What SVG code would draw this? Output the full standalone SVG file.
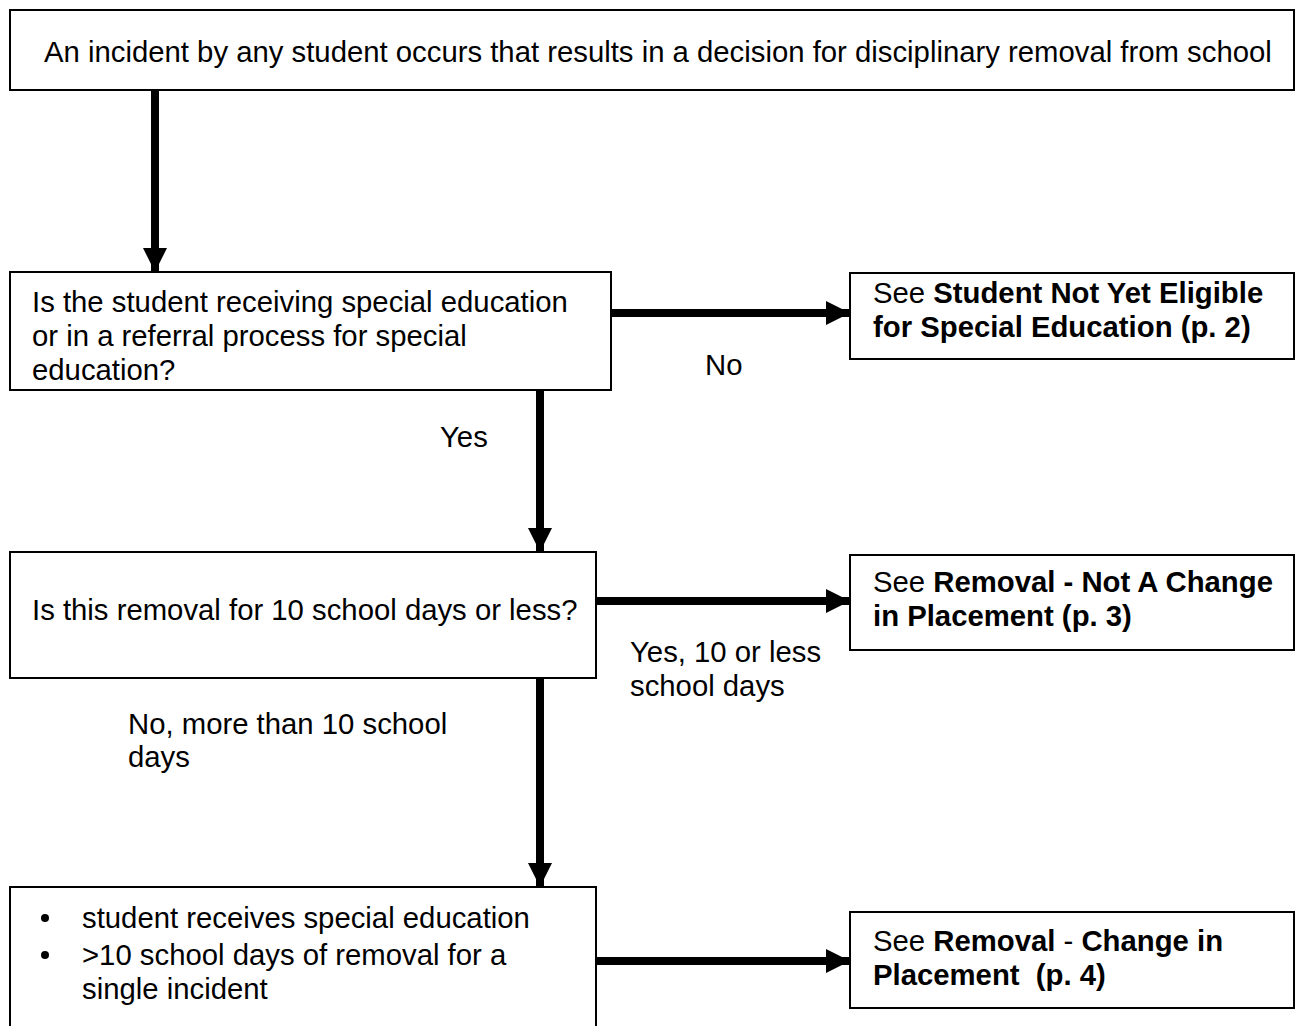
<svg xmlns="http://www.w3.org/2000/svg" width="1296" height="1026" viewBox="0 0 1296 1026">
<defs>
<style>
.box{fill:#fff;stroke:#000;stroke-width:2}
.t{font-family:"Liberation Sans",Arial,sans-serif;font-size:29.3px;fill:#000}
.b{font-weight:bold}
.c{stroke:#000;stroke-width:8;fill:none}
</style>
<marker id="ah" markerUnits="userSpaceOnUse" markerWidth="26" markerHeight="26" refX="24" refY="13" orient="auto" viewBox="0 0 26 26">
<path d="M0,1 L24,13 L0,25 Z" fill="#000"/>
</marker>
</defs>
<rect width="1296" height="1026" fill="#fff"/>
<g id="connectors">
<line class="c" x1="155" y1="90" x2="155" y2="272" marker-end="url(#ah)"/>
<line class="c" x1="611" y1="313" x2="850" y2="313" marker-end="url(#ah)"/>
<line class="c" x1="540" y1="390" x2="540" y2="552" marker-end="url(#ah)"/>
<line class="c" x1="596" y1="601" x2="850" y2="601" marker-end="url(#ah)"/>
<line class="c" x1="540" y1="678" x2="540" y2="887" marker-end="url(#ah)"/>
<line class="c" x1="596" y1="961" x2="850" y2="961" marker-end="url(#ah)"/>
<text class="t" x="705" y="375">No</text>
<text class="t" x="440" y="447">Yes</text>
<text class="t" x="630" y="662">Yes, 10 or less</text>
<text class="t" x="630" y="696">school days</text>
<text class="t" x="128" y="734">No, more than 10 school</text>
<text class="t" x="128" y="767">days</text>
</g>
<g id="n1">
<rect class="box" x="10" y="10" width="1284" height="80"/>
<text class="t" x="44" y="62">An incident by any student occurs that results in a decision for disciplinary removal from school</text>
</g>
<g id="n2">
<rect class="box" x="10" y="272" width="601" height="118"/>
<text class="t" x="32" y="312">Is the student receiving special education</text>
<text class="t" x="32" y="346">or in a referral process for special</text>
<text class="t" x="32" y="380">education?</text>
</g>
<g id="n3">
<rect class="box" x="850" y="273" width="444" height="86"/>
<text class="t" x="873" y="303">See <tspan class="b">Student Not Yet Eligible</tspan></text>
<text class="t b" x="873" y="337">for Special Education (p. 2)</text>
</g>
<g id="n4">
<rect class="box" x="10" y="552" width="586" height="126"/>
<text class="t" x="32" y="620">Is this removal for 10 school days or less?</text>
</g>
<g id="n5">
<rect class="box" x="850" y="555" width="444" height="95"/>
<text class="t" x="873" y="592">See <tspan class="b">Removal - Not A Change</tspan></text>
<text class="t b" x="873" y="626">in Placement (p. 3)</text>
</g>
<g id="n6">
<rect class="box" x="10" y="887" width="586" height="150"/>
<circle cx="45" cy="918" r="4" fill="#000"/>
<circle cx="45" cy="955" r="4" fill="#000"/>
<text class="t" x="82" y="928">student receives special education</text>
<text class="t" x="82" y="965">&gt;10 school days of removal for a</text>
<text class="t" x="82" y="999">single incident</text>
</g>
<g id="n7">
<rect class="box" x="850" y="912" width="444" height="96"/>
<text class="t" x="873" y="951">See <tspan class="b">Removal</tspan> - <tspan class="b">Change in</tspan></text>
<text class="t b" x="873" y="985">Placement&#160; (p. 4)</text>
</g>
</svg>
